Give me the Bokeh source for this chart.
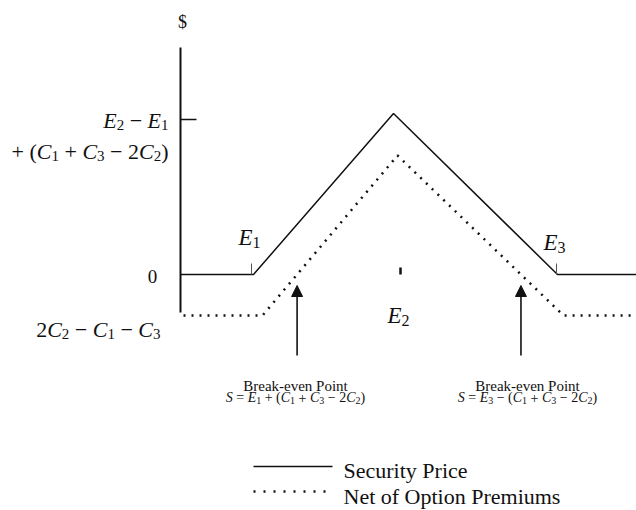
from bokeh.plotting import figure
from bokeh.models import Arrow, NormalHead, ColumnDataSource
from bokeh.core.properties import value
from bokeh.embed import file_html
from bokeh.resources import INLINE

# ---- data (arbitrary payoff units) ----
# security-price payoff (solid)
price_x = [0, 73, 213, 377, 456]
price_y = [0, 0, 161, 0, 0]
# payoff net of option premiums (dotted)
net_x = [3, 82, 217, 383, 456]
net_y = [-41, -41, 119, -41, -41]
# strike positions
E1, E2, E3 = 73, 220, 377
# y-axis reference levels
y_top_level = 155
y_low_level = -41

FONT = value("Liberation Serif")
ink = "#111111"

p = figure(width=636, height=510, x_range=(-180, 456), y_range=(-236, 274),
           output_backend="svg", toolbar_location=None, min_border=0,
           outline_line_color=None, background_fill_color="white",
           border_fill_color="white")
p.axis.visible = False
p.grid.visible = False

# vertical axis and its tick
p.line([0, 0], [-38, 227], line_color=ink, line_width=2)
p.line([0, 16], [y_top_level, y_top_level], line_color=ink, line_width=1.3)

# payoff lines
p.line(price_x, price_y, line_color=ink, line_width=1.5)
p.line(net_x, net_y, line_color=ink, line_width=2.5, line_dash="2 6")

# little strike marks
p.segment(x0=[E1 - 2, E3 - 1], y0=[0, 0], x1=[E1 - 2, E3 - 1], y1=[11, 11],
          line_color="#555555", line_width=1)
p.segment(x0=[E2], y0=[0], x1=[E2], y1=[7], line_color=ink, line_width=2.5)

# break-even points: where the dotted line crosses zero
def crossing(x0, y0, x1, y1):
    return x0 + (0 - y0) * (x1 - x0) / (y1 - y0)

be_left = crossing(net_x[1], net_y[1], net_x[2], net_y[2])
be_right = crossing(net_x[2], net_y[2], net_x[3], net_y[3])

for bx in (be_left, be_right):
    p.add_layout(Arrow(end=NormalHead(size=11, fill_color=ink, line_color=ink),
                       x_start=bx, y_start=-81, x_end=bx, y_end=-11,
                       line_color=ink, line_width=1.6))

# ---- rich text (italic letters, upright operators, real subscripts) ----
REG = {' ': .25, '(': .333, ')': .333, '+': .564, '=': .564, '\u2212': .564, '$': .5}
ITA = {'E': .611, 'C': .667, 'S': .5}

def cw(ch, kind):
    if kind == 'i':
        return ITA.get(ch, .5)
    return REG.get(ch, .5)

groups = {}  # (size, style) -> dict of columns

def rich(x, y, runs, size, align="left"):
    sub = round(size * 0.7)
    items, cur = [], 0.0
    for s, kind in runs:
        fs = sub if kind == 's' else size
        w = [cw(c, kind) * fs for c in s]
        lead = len(s) - len(s.lstrip(' '))
        start = cur + sum(w[:lead])
        if s.strip():
            items.append((start, s.strip(), fs, 'italic' if kind == 'i' else 'normal',
                          -0.2 * size if kind == 's' else 0.0))
        cur += sum(w)
    x0 = x - cur if align == "right" else (x - cur / 2 if align == "center" else x)
    for off, s, fs, st, dy in items:
        g = groups.setdefault((fs, st), dict(x=[], y=[], text=[]))
        g['x'].append(x0 + off)
        g['y'].append(y + dy)
        g['text'].append(s)

def plain(x, y, s, size, align="center", baseline="alphabetic"):
    p.text(x=[x], y=[y], text=[s], text_font=FONT, text_font_size=size,
           text_align=align, text_baseline=baseline, text_color=ink)

M = '\u2212'
# axis labels
plain(2, 253, "$", "18px", baseline="middle")
plain(-28, -2, "0", "19px", baseline="middle")
rich(-12, 154, [("E", 'i'), ("2", 's'), (f" {M} ", 'r'), ("E", 'i'), ("1", 's')], 22, "right")
rich(-12, 123, [("+ (", 'r'), ("C", 'i'), ("1", 's'), (" + ", 'r'), ("C", 'i'), ("3", 's'),
                (f" {M} 2", 'r'), ("C", 'i'), ("2", 's'), (")", 'r')], 22, "right")
rich(-20, -55, [("2", 'r'), ("C", 'i'), ("2", 's'), (f" {M} ", 'r'), ("C", 'i'), ("1", 's'),
                (f" {M} ", 'r'), ("C", 'i'), ("3", 's')], 22, "right")

# strike labels
rich(69, 37, [("E", 'i'), ("1", 's')], 23, "center")
rich(374, 32, [("E", 'i'), ("3", 's')], 23, "center")
rich(218, -41, [("E", 'i'), ("2", 's')], 23, "center")

# break-even annotations
plain(115, -111, "Break-even Point", "15px")
rich(115, -123, [("S", 'i'), (" = ", 'r'), ("E", 'i'), ("1", 's'), (" + (", 'r'), ("C", 'i'),
                 ("1", 's'), (" + ", 'r'), ("C", 'i'), ("3", 's'), (f" {M} 2", 'r'), ("C", 'i'),
                 ("2", 's'), (")", 'r')], 14, "center")
plain(347, -111, "Break-even Point", "15px")
rich(347, -123, [("S", 'i'), (" = ", 'r'), ("E", 'i'), ("3", 's'), (f" {M} (", 'r'), ("C", 'i'),
                 ("1", 's'), (" + ", 'r'), ("C", 'i'), ("3", 's'), (f" {M} 2", 'r'), ("C", 'i'),
                 ("2", 's'), (")", 'r')], 14, "center")

for (fs, st), cols in groups.items():
    p.text(x='x', y='y', text='text', source=ColumnDataSource(cols),
           text_font=FONT, text_font_size=f"{fs}px", text_font_style=st,
           text_align="left", text_baseline="alphabetic", text_color=ink)

# legend
p.line([73, 152], [-192, -192], line_color=ink, line_width=1.5)
plain(163, -196, "Security Price", "22px", align="left")
p.line([73, 152], [-217, -217], line_color=ink, line_width=2.5, line_dash="2 8")
plain(163, -222, "Net of Option Premiums", "22px", align="left")

open("out.html", "w").write(file_html(p, INLINE))
